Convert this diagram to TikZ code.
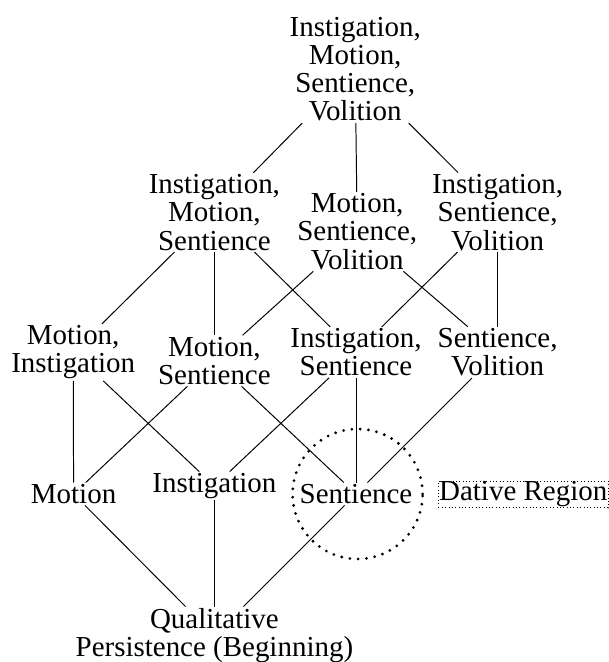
\documentclass[tikz,border=0pt]{standalone}
\usepackage{fontspec}
\setmainfont{Liberation Serif}
\usetikzlibrary{positioning}

\begin{document}
\begin{tikzpicture}[font=\fontsize{20.6pt}{20.1pt}\selectfont,
    role/.style={align=center, inner sep=1pt},
    link/.style={line width=0.7pt},
    region/.style={draw, circle, line width=2.2pt, line cap=round, dash pattern=on 0pt off 5.9pt, minimum size=3.25cm},
    tag/.style={draw, line width=0.6pt, dash pattern=on 0.6pt off 1.8pt, inner sep=0.5pt}]
      \useasboundingbox (0,0) rectangle (15.2,16.55);
      % Top of the lattice
      \node[role] (imsv) at (8.88,14.82) {Instigation,\\Motion,\\Sentience,\\Volition};
      % Three properties
      \node[role] (ims) at (5.36,11.24) {Instigation,\\Motion,\\Sentience};
      \node[role] (msv) at (8.93,10.76) {Motion,\\Sentience,\\Volition};
      \node[role] (isv) at (12.44,11.24) {Instigation,\\Sentience,\\Volition};
      % Two properties
      \node[role] (mi) at (1.83,7.74) {Motion,\\Instigation};
      \node[role] (ms) at (5.36,7.53) {Motion,\\Sentience};
      \node[role] (is) at (8.9,7.74) {Instigation,\\Sentience};
      \node[role] (sv) at (12.44,7.74) {Sentience,\\Volition};
      % One property
      \node[role] (mot) at (1.84,4.2) {Motion};
      \node[role] (ins) at (5.36,4.4) {Instigation};
      \node[role] (sen) at (8.9,4.2) {Sentience};
      % Bottom
      \node[role] (qp) at (5.36,0.66) {Qualitative\\Persistence (Beginning)};
      % Dative region
      \node[region] (dat) at (8.94,4.2) {};
      \node[tag] (datlabel) at (13.08,4.19) {Dative Region};
      % Links
      \foreach \a/\b in {imsv/ims, imsv/msv, imsv/isv, ims/mi, ims/ms, ims/is, msv/ms, msv/sv,
          isv/is, isv/sv, mi/mot, mi/ins, ms/mot, ms/sen, is/ins, is/sen, sv/sen,
          mot/qp, ins/qp, sen/qp}{
        \draw[link] (\a) -- (\b);
      }
    \end{tikzpicture}
\end{document}
